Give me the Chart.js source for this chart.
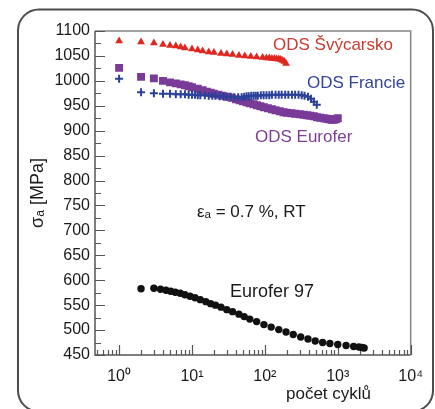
<!DOCTYPE html>
<html><head><meta charset="utf-8">
<script src="https://cdn.jsdelivr.net/npm/chart.js@4/dist/chart.umd.min.js"></script>
<style>html,body{margin:0;padding:0;background:#fff;}#wrap{width:435px;height:409px;}</style>
</head><body><div id="wrap"><canvas id="c" width="435" height="409"></canvas></div>
<script>
// ---- data ----
const xTickValues = [1, 10, 100, 1000, 10000];
const yMin = 450, yMax = 1100, yStep = 50;

const cyclesSwiss = [1,2,3,4,5,6,7,8,10,12,14,17,20,25,30,36,44,53,64,77,93,105,115,125,135,145,155,165,175,185,195];
const stressSwiss = [1080,1078,1076,1073,1071,1070,1068,1066,1064,1062,1060,1058,1057,1055,1054,1053,1051,1050,1049,1048,1047,1046,1046,1045,1045,1044,1044,1043,1041,1039,1035];

const cyclesFrance = [1,2,3,4,5,6,7,8,9,10,11,12,13,15,17,19,21,24,27,30,34,38,43,48,52,56,60,65,70,75,80,88,96,105,115,125,140,155,170,190,210,235,260,290,320,350,390,430,470,515];
const stressFrance = [1004,977,975,974,974,973,973,973,972,972,972,971,971,971,970,970,970,969,969,968,968,967,967,967,968,969,969,970,970,970,970,971,971,971,971,972,972,972,972,972,972,972,972,972,971,970,968,964,958,952];

const cyclesOdsEurofer = [1,2,3,4,5,6,7,8,9,10,12,14,16,18,20,23,26,30,35,40,45,50,56,62,70,78,87,97,110,125,140,160,180,200,230,260,300,340,380,420,470,520,580,640,700,760,820,880,940,1000];
const stressOdsEurofer = [1026,1008,1005,1000,997,995,993,991,989,987,984,981,978,976,974,972,970,968,966,963,961,959,957,955,953,951,949,947,945,943,941,939,937,936,935,934,933,932,931,930,929,927,926,925,924,923,922,922,923,925];

const cyclesEurofer97 = [2,3,3.7,4.4,5.1,5.9,6.9,8,9.4,11,13,15.5,18,21,25,30,36,44,52,62,77,97,122,155,195,245,310,390,490,620,780,1000,1300,1650,1950,2150,2300];
const stressEurofer97 = [583,584,582,580,578,576,574,571,568,565,561,557,553,550,546,541,537,532,527,522,517,511,506,501,496,491,486,482,478,475,473,471,469,467,466,465,464];

const pts = (xs, ys) => xs.map((v, i) => ({x: v, y: ys[i]}));
const SUP = {'0':'\u2070','1':'\u00B9','2':'\u00B2','3':'\u00B3','4':'\u2074'};

const FONT = '"Liberation Sans", Arial, Helvetica, sans-serif';
const notes = [
  {text: 'ODS Švýcarsko', x: 273, y: 50, color: '#cc3a2e', size: 17},
  {text: 'ODS Francie', x: 307, y: 88, color: '#34449a', size: 17},
  {text: 'ODS Eurofer', x: 255, y: 142, color: '#7d3f95', size: 17},
  {text: 'εₐ = 0.7 %, RT', x: 197, y: 217, color: '#1a1a1a', size: 17},
  {text: 'Eurofer 97', x: 230, y: 297, color: '#1a1a1a', size: 18},
  {text: 'počet cyklů', x: 286, y: 399, color: '#1a1a1a', size: 17}
];

function rr(ctx, x, y, w, h, r) {
  ctx.beginPath();
  ctx.moveTo(x + r, y);
  ctx.arcTo(x + w, y, x + w, y + h, r);
  ctx.arcTo(x + w, y + h, x, y + h, r);
  ctx.arcTo(x, y + h, x, y, r);
  ctx.arcTo(x, y, x + w, y, r);
  ctx.closePath();
}

const decor = {
  id: 'decor',
  beforeDraw(chart) {
    const ctx = chart.ctx;
    ctx.save();
    ctx.fillStyle = '#fff';
    ctx.fillRect(0, 0, chart.width, chart.height);
    ctx.strokeStyle = '#4d4d4d';
    ctx.lineWidth = 2;
    rr(ctx, 18, 9.5, 415, 402, 21);
    ctx.stroke();
    ctx.restore();
  },
  beforeDatasetsDraw(chart) {
    const {ctx, chartArea: a, scales: {x, y}} = chart;
    ctx.save();
    ctx.strokeStyle = '#858585';
    ctx.lineWidth = 1.5;
    ctx.beginPath();
    ctx.moveTo(a.left, a.top); ctx.lineTo(a.right, a.top); ctx.lineTo(a.right, a.bottom);
    ctx.stroke();
    ctx.strokeStyle = '#555';
    ctx.beginPath();
    ctx.moveTo(a.left, a.top); ctx.lineTo(a.left, a.bottom); ctx.lineTo(a.right, a.bottom);
    ctx.stroke();
    ctx.lineWidth = 1.2;
    ctx.beginPath();
    for (let v = yMin; v <= yMax; v += yStep / 2) {
      const py = Math.round(y.getPixelForValue(v)) + 0.5;
      const len = (v % yStep === 0) ? 10 : 6;
      ctx.moveTo(a.left, py); ctx.lineTo(a.left + len, py);
    }
    for (let d = -1; d <= 4; d++) {
      for (let m = 1; m <= 9; m++) {
        const v = m * Math.pow(10, d);
        if (v < x.min || v > x.max) continue;
        const px = Math.round(x.getPixelForValue(v)) + 0.5;
        const len = m === 1 ? 10 : 5;
        ctx.moveTo(px, a.bottom); ctx.lineTo(px, a.bottom - len);
      }
    }
    ctx.stroke();
    ctx.restore();
  },
  afterDraw(chart) {
    const ctx = chart.ctx;
    ctx.save();
    ctx.textBaseline = 'alphabetic';
    ctx.textAlign = 'left';
    for (const n of notes) {
      ctx.font = n.size + 'px ' + FONT;
      ctx.fillStyle = n.color;
      ctx.fillText(n.text, n.x, n.y);
    }
    ctx.restore();
  }
};

new Chart(document.getElementById('c'), {
  type: 'scatter',
  data: {
    datasets: [
      {label: 'Eurofer 97', data: pts(cyclesEurofer97, stressEurofer97), pointStyle: 'circle', pointRadius: 3.7, backgroundColor: '#111', borderColor: '#111', borderWidth: 0},
      {label: 'ODS Švýcarsko', data: pts(cyclesSwiss, stressSwiss), pointStyle: 'triangle', pointRadius: 4.5, backgroundColor: '#e0261f', borderColor: '#e0261f', borderWidth: 0},
      {label: 'ODS Francie', data: pts(cyclesFrance, stressFrance), pointStyle: 'cross', pointRadius: 4, backgroundColor: '#2b4199', borderColor: '#2b4199', borderWidth: 2},
      {label: 'ODS Eurofer', data: pts(cyclesOdsEurofer, stressOdsEurofer), pointStyle: 'rect', pointRadius: 5.6, backgroundColor: '#7a3b98', borderColor: '#7a3b98', borderWidth: 0}
    ]
  },
  options: {
    responsive: false,
    animation: false,
    layout: {padding: {left: 0, right: 13, top: 31, bottom: 0}},
    plugins: {legend: {display: false}, tooltip: {enabled: false}},
    scales: {
      x: {
        type: 'logarithmic',
        min: 0.467, max: 10000,
        grid: {display: false, drawTicks: false},
        border: {display: false},
        afterBuildTicks: s => { s.ticks = xTickValues.map(v => ({value: v, major: true})); },
        afterFit: s => { s.height = 54; },
        ticks: {
          autoSkip: false, maxRotation: 0, padding: 12, color: '#1a1a1a',
          font: {family: FONT, size: 16},
          callback: v => '10' + String(Math.round(Math.log10(v))).split('').map(c => SUP[c]).join('')
        }
      },
      y: {
        type: 'linear',
        min: yMin, max: yMax,
        grid: {display: false, drawTicks: false},
        border: {display: false},
        afterFit: s => { s.width = 95; },
        ticks: {stepSize: yStep, autoSkip: false, padding: 5, color: '#1a1a1a', font: {family: FONT, size: 16}, callback: v => String(v)},
        title: {display: true, text: 'σₐ [MPa]', color: '#1a1a1a', font: {family: FONT, size: 18}, padding: {top: 27, bottom: 0}}
      }
    }
  },
  plugins: [decor]
});
</script>
</body></html>
